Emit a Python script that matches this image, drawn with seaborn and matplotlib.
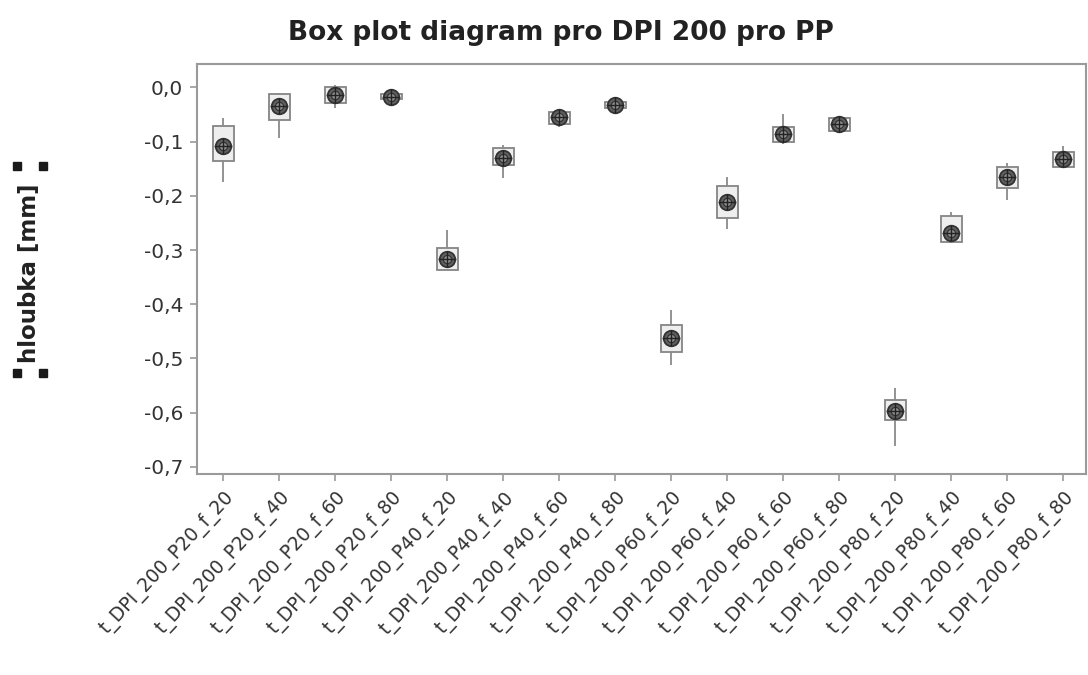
import numpy as np
import pandas as pd
import matplotlib
matplotlib.use("Agg")
import matplotlib.pyplot as plt
import seaborn as sns

# Category names (one box per measurement setting)
categories = [
    "t_DPI_200_P20_f_20", "t_DPI_200_P20_f_40", "t_DPI_200_P20_f_60", "t_DPI_200_P20_f_80",
    "t_DPI_200_P40_f_20", "t_DPI_200_P40_f_40", "t_DPI_200_P40_f_60", "t_DPI_200_P40_f_80",
    "t_DPI_200_P60_f_20", "t_DPI_200_P60_f_40", "t_DPI_200_P60_f_60", "t_DPI_200_P60_f_80",
    "t_DPI_200_P80_f_20", "t_DPI_200_P80_f_40", "t_DPI_200_P80_f_60", "t_DPI_200_P80_f_80",
]

# Five-number summaries per category (depth in mm)
whisker_low = [-0.175, -0.093, -0.038, -0.030, -0.337, -0.167, -0.073, -0.040,
               -0.512, -0.262, -0.104, -0.083, -0.661, -0.287, -0.208, -0.149]
q1 = [-0.136, -0.061, -0.029, -0.022, -0.337, -0.143, -0.067, -0.038,
      -0.489, -0.241, -0.100, -0.080, -0.613, -0.286, -0.186, -0.146]
median = [-0.108, -0.035, -0.014, -0.018, -0.317, -0.130, -0.055, -0.032,
          -0.462, -0.212, -0.086, -0.068, -0.597, -0.269, -0.166, -0.132]
q3 = [-0.072, -0.012, 0.000, -0.013, -0.296, -0.112, -0.045, -0.026,
      -0.439, -0.182, -0.073, -0.057, -0.577, -0.237, -0.147, -0.120]
whisker_high = [-0.056, -0.010, 0.005, -0.003, -0.263, -0.106, -0.040, -0.023,
                -0.411, -0.166, -0.049, -0.055, -0.554, -0.229, -0.139, -0.108]

y_ticks = [0.0, -0.1, -0.2, -0.3, -0.4, -0.5, -0.6, -0.7]
y_tick_labels = ["0,0", "-0,1", "-0,2", "-0,3", "-0,4", "-0,5", "-0,6", "-0,7"]

# Long-form table: five points per category reproduce the summary exactly
rows = []
for i, cat in enumerate(categories):
    for v in (whisker_low[i], q1[i], median[i], q3[i], whisker_high[i]):
        rows.append((cat, v))
df = pd.DataFrame(rows, columns=["setting", "hloubka"])
centers = pd.DataFrame({"setting": categories, "hloubka": median})

sns.set_theme(style="white")
plt.rcParams["font.family"] = ["DejaVu Sans"]

fig = plt.figure(figsize=(10.88, 6.75), dpi=100)
ax = fig.add_axes([0.181, 0.298, 0.817, 0.607])

frame_grey = "#9a9a9a"
sns.boxplot(
    data=df, x="setting", y="hloubka", order=categories, ax=ax,
    whis=(0, 100), width=0.37, color="#eeeeee", linecolor="#858585",
    linewidth=1.3, fliersize=0, showcaps=False,
    medianprops=dict(color="#9a9a9a", linewidth=1.0),
    whiskerprops=dict(color="#8a8a8a", linewidth=1.3),
)

# Mean symbol: dark ring with a crosshair
sns.scatterplot(data=centers, x="setting", y="hloubka", ax=ax, marker="o",
                s=125, color="#606060", edgecolor="#333333", linewidth=1.3,
                zorder=5, legend=False)
sns.scatterplot(data=centers, x="setting", y="hloubka", ax=ax, marker="o",
                s=36, color="#909090", edgecolor="#333333", linewidth=0.9,
                zorder=6, legend=False)
sns.scatterplot(data=centers, x="setting", y="hloubka", ax=ax, marker="+",
                s=125, color="#222222", linewidth=1.0, zorder=7, legend=False)

ax.set_xlim(-0.47, 15.4)
ax.set_ylim(-0.713, 0.043)
ax.set_yticks(y_ticks)
ax.set_yticklabels(y_tick_labels, fontsize=14.5, color="#333333")
ax.set_xticks(range(len(categories)))
ax.set_xticklabels(categories, rotation=47, ha="right", rotation_mode="anchor",
                   fontsize=13.5, color="#333333")
ax.tick_params(axis="both", direction="out", length=5, width=1.2, color=frame_grey,
               bottom=True, left=True, pad=5)
for s in ax.spines.values():
    s.set_visible(True)
    s.set_color(frame_grey)
    s.set_linewidth(1.5)
ax.set_xlabel("")
ax.set_ylabel("")

fig.text(0.516, 0.951, "Box plot diagram pro DPI 200 pro PP", ha="center", va="center",
         fontsize=19, fontweight="bold", color="#222222")
fig.text(0.027, 0.595, "hloubka [mm]", rotation=90, ha="center", va="center",
         fontsize=16.5, fontweight="bold", color="#222222")

# Selection handles around the axis title
hx = [17 / 1088, 43 / 1088, 17 / 1088, 43 / 1088]
hy = [1 - 166 / 675, 1 - 166 / 675, 1 - 373 / 675, 1 - 373 / 675]
fig.add_artist(plt.Line2D(hx, hy, linestyle="none", marker="s", markersize=5.5,
                          color="#1a1a1a", transform=fig.transFigure))

fig.savefig("out.png", dpi=100, facecolor="white")
